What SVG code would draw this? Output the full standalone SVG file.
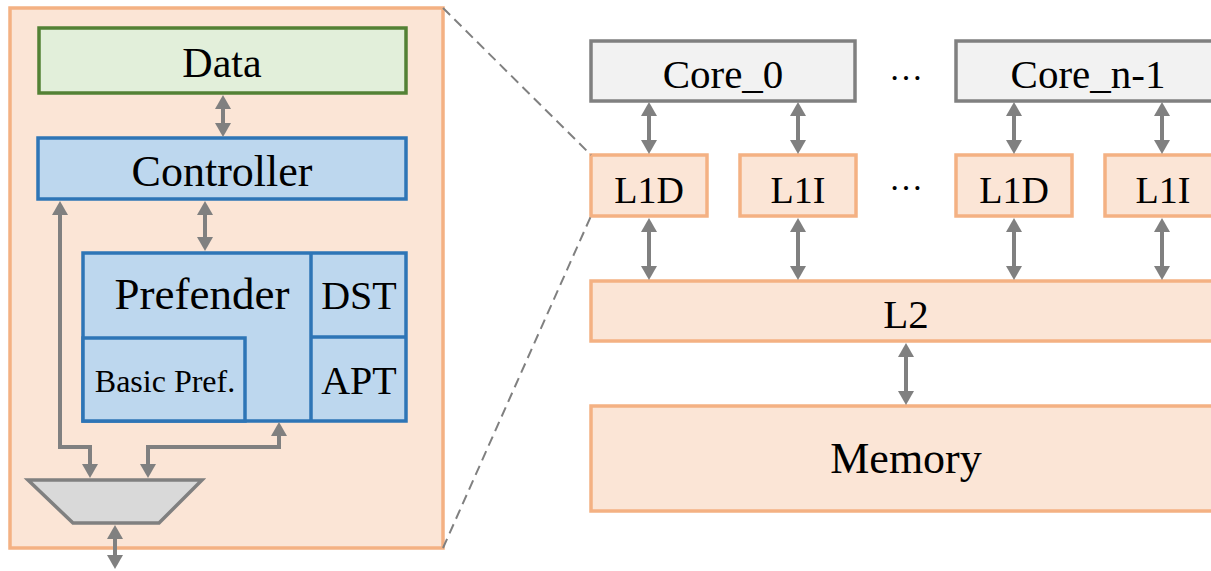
<svg xmlns="http://www.w3.org/2000/svg" width="1211" height="571" viewBox="0 0 1211 571">
<style>
text{font-family:"Liberation Serif","Times New Roman",serif;fill:#000;text-anchor:middle}
.orange{fill:#FBE5D6;stroke:#F4B183;stroke-width:3.5}
.blue{fill:#BDD7EE;stroke:#2E75B6;stroke-width:3.5}
.green{fill:#E2EFDA;stroke:#538135;stroke-width:3.5}
.core{fill:#F2F2F2;stroke:#808080;stroke-width:3.5}
.conn{fill:none;stroke:#808080;stroke-width:4}
.dash{fill:none;stroke:#808080;stroke-width:2;stroke-dasharray:10 6}
</style>
<defs>
<marker id="ah" viewBox="0 0 14 16" refX="4" refY="8" markerWidth="14" markerHeight="16" markerUnits="userSpaceOnUse" orient="auto-start-reverse">
<path d="M0,0 L14,8 L0,16 z" fill="#808080"/>
</marker>
</defs>

<g id="prefender-detail">
<rect class="orange" x="10" y="8" width="433" height="540"/>
</g>

<g id="data">
<rect class="green" x="39" y="28" width="367" height="65"/>
<text x="222" y="77" font-size="42">Data</text>
</g>

<g id="controller">
<rect class="blue" x="38" y="138" width="368" height="61"/>
<text x="222" y="186" font-size="44">Controller</text>
</g>

<g id="prefender">
<rect class="blue" x="83" y="253" width="323" height="168"/>
<line x1="311" y1="253" x2="311" y2="421" stroke="#2E75B6" stroke-width="3.5"/>
<line x1="311" y1="337" x2="406" y2="337" stroke="#2E75B6" stroke-width="3.5"/>
<text x="202" y="309" font-size="45">Prefender</text>
</g>

<g id="dst">
<text x="359" y="309" font-size="40">DST</text>
</g>

<g id="apt">
<text x="359" y="394" font-size="40">APT</text>
</g>

<g id="basic-pref">
<rect class="blue" x="83" y="338" width="162" height="83"/>
<text x="165" y="392" font-size="32">Basic Pref.</text>
</g>

<g id="mux">
<path d="M28,480 L202,480 L159,523 L73,523 Z" fill="#D9D9D9" stroke="#808080" stroke-width="3.5"/>
</g>

<g id="core0">
<rect class="core" x="591" y="41" width="264" height="60"/>
<text x="723" y="88" font-size="41">Core_0</text>
</g>
<g id="core-n-1">
<rect class="core" x="956" y="41" width="264" height="60"/>
<text x="1088" y="88" font-size="41">Core_n-1</text>
</g>
<g id="l1d-0">
<rect class="orange" x="591" y="155" width="116" height="61"/>
<text x="649" y="203" font-size="38">L1D</text>
</g>
<g id="l1i-0">
<rect class="orange" x="740" y="155" width="116" height="61"/>
<text x="798" y="203" font-size="38">L1I</text>
</g>
<g id="l1d-n">
<rect class="orange" x="956" y="155" width="116" height="61"/>
<text x="1014" y="203" font-size="38">L1D</text>
</g>
<g id="l1i-n">
<rect class="orange" x="1105" y="155" width="116" height="61"/>
<text x="1163" y="203" font-size="38">L1I</text>
</g>
<g id="l2">
<rect class="orange" x="591" y="281" width="631" height="60"/>
<text x="906" y="328" font-size="41">L2</text>
</g>
<g id="memory">
<rect class="orange" x="591" y="406" width="631" height="105"/>
<text x="906" y="473" font-size="44">Memory</text>
</g>
<g id="ellipses">
<text x="906" y="80" font-size="34">…</text>
<text x="906" y="190" font-size="34">…</text>
</g>

<g id="connectors">
<line class="dash" x1="443" y1="8" x2="591" y2="155"/>
<line class="dash" x1="443" y1="548" x2="591" y2="216"/>
<path class="conn" d="M223,105 L223,127" marker-start="url(#ah)" marker-end="url(#ah)"/>
<path class="conn" d="M205,211 L205,241" marker-start="url(#ah)" marker-end="url(#ah)"/>
<path class="conn" d="M60,211 L60,447 L90,447 L90,468" marker-start="url(#ah)" marker-end="url(#ah)"/>
<path class="conn" d="M279,432 L279,447 L148,447 L148,468" marker-start="url(#ah)" marker-end="url(#ah)"/>
<path class="conn" d="M115,535 L115,559" marker-start="url(#ah)" marker-end="url(#ah)"/>
<path class="conn" d="M649,112 L649,144" marker-start="url(#ah)" marker-end="url(#ah)"/>
<path class="conn" d="M798,112 L798,144" marker-start="url(#ah)" marker-end="url(#ah)"/>
<path class="conn" d="M1014,112 L1014,144" marker-start="url(#ah)" marker-end="url(#ah)"/>
<path class="conn" d="M1162,112 L1162,144" marker-start="url(#ah)" marker-end="url(#ah)"/>
<path class="conn" d="M649,228 L649,270" marker-start="url(#ah)" marker-end="url(#ah)"/>
<path class="conn" d="M798,228 L798,270" marker-start="url(#ah)" marker-end="url(#ah)"/>
<path class="conn" d="M1014,228 L1014,270" marker-start="url(#ah)" marker-end="url(#ah)"/>
<path class="conn" d="M1162,228 L1162,270" marker-start="url(#ah)" marker-end="url(#ah)"/>
<path class="conn" d="M906,353 L906,395" marker-start="url(#ah)" marker-end="url(#ah)"/>
</g>
</svg>
